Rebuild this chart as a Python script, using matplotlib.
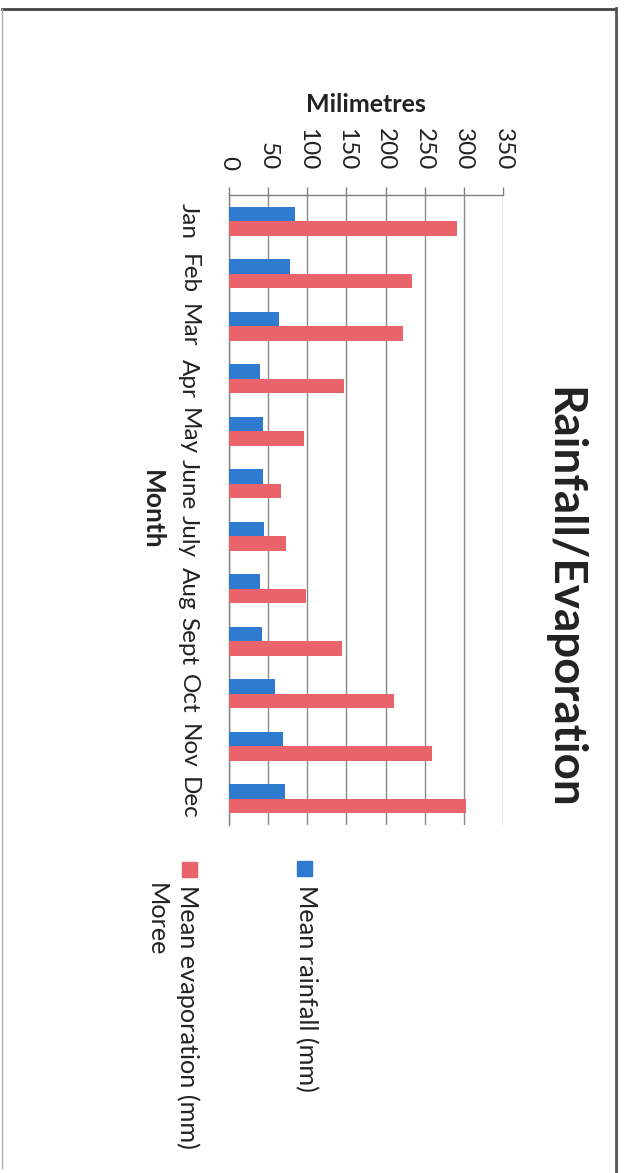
import numpy as np
import matplotlib
matplotlib.use("Agg")
import matplotlib.pyplot as plt
from matplotlib.lines import Line2D
from matplotlib.patches import Rectangle

months = ["Jan", "Feb", "Mar", "Apr", "May", "June", "July", "Aug", "Sept", "Oct", "Nov", "Dec"]
rainfall = [84, 78, 64, 40, 43, 44, 45, 40, 42, 59, 69, 72]
evaporation = [291, 234, 222, 147, 96, 67, 73, 98, 144, 211, 259, 303]
x_ticks = [0, 50, 100, 150, 200, 250, 300, 350]
title = "Rainfall/Evaporation"
series_names = ["Mean rainfall (mm)", "Mean evaporation (mm)"]
location = "Moree"

BLUE = "#2f7bd0"
RED = "#e8646a"
W, H = 625, 1173

plt.rcParams['font.family'] = ['Lato', 'DejaVu Sans']

fig = plt.figure(figsize=(W / 100, H / 100), dpi=100)
fig.patch.set_facecolor("white")

def fx(px):
    return px / W

def fy(py):
    return 1 - py / H

ax_left, ax_right, ax_top, ax_bot = 229, 503, 195, 825
ax = fig.add_axes([fx(ax_left), fy(ax_bot), fx(ax_right) - fx(ax_left), fy(ax_top) - fy(ax_bot)])

pos = np.arange(len(months))
bw = 0.276
ax.barh(pos - bw / 2, rainfall, height=bw, color=BLUE, zorder=3)
ax.barh(pos + bw / 2, evaporation, height=bw, color=RED, zorder=3)

ax.set_xlim(0, 350)
ax.set_ylim(len(months) - 0.5, -0.5)
ax.xaxis.tick_top()
ax.set_xticks(x_ticks)
ax.set_xticklabels([str(t) for t in x_ticks], rotation=270, fontsize=17.5, color="#222222")
ax.tick_params(axis='x', which='both', length=6, width=1, color="#808080", pad=12, bottom=False)
ax.set_yticks(pos)
ax.set_yticklabels(months, rotation=270, fontsize=17.5, color="#222222", va='center')
ax.tick_params(axis='y', length=0, pad=22)

ax.grid(axis='x', color="#8a8a8a", linewidth=1.0, zorder=0)
ax.set_axisbelow(True)
for s in ["right", "bottom"]:
    ax.spines[s].set_visible(False)
for s in ["top", "left"]:
    ax.spines[s].set_color("#808080")
    ax.spines[s].set_linewidth(1.0)

ax.xaxis.set_label_position('top')
ax.set_xlabel("Milimetres", fontsize=18, fontweight='bold', color="#222222", va='center')
ax.xaxis.set_label_coords(0.5, 1 + 90 / 630)
ax.set_ylabel("Month", fontsize=19, fontweight='bold', rotation=270, color="#222222", va='center', ha='center')
ax.yaxis.set_label_coords((152 - 229) / 274, 0.5)

fig.text(fx(563), fy(598), title, rotation=270, ha='center', va='center',
         fontsize=33, fontweight='bold', color="#222222")

# legend
fig.add_artist(Rectangle((fx(297), fy(876)), fx(15), 15 / H, color=BLUE, transform=fig.transFigure))
fig.add_artist(Rectangle((fx(182), fy(877)), fx(15), 15 / H, color=RED, transform=fig.transFigure))
fig.text(fx(306), fy(885), series_names[0], rotation=270, ha='center', va='top', fontsize=18.2, color="#222222")
fig.text(fx(188), fy(885), series_names[1], rotation=270, ha='center', va='top', fontsize=18.2, color="#222222")
fig.text(fx(156), fy(883), location, rotation=270, ha='center', va='top', fontsize=18.2, color="#222222")

# page border
fig.add_artist(Line2D([fx(2), fx(616)], [fy(9), fy(9)], color="#444444", linewidth=2, transform=fig.transFigure))
fig.add_artist(Line2D([fx(616), fx(616)], [fy(8), fy(1173)], color="#555555", linewidth=2, transform=fig.transFigure))
fig.add_artist(Line2D([fx(2), fx(2)], [fy(9), fy(1168)], color="#aaaaaa", linewidth=1, transform=fig.transFigure))

fig.savefig("out.png", dpi=100)
